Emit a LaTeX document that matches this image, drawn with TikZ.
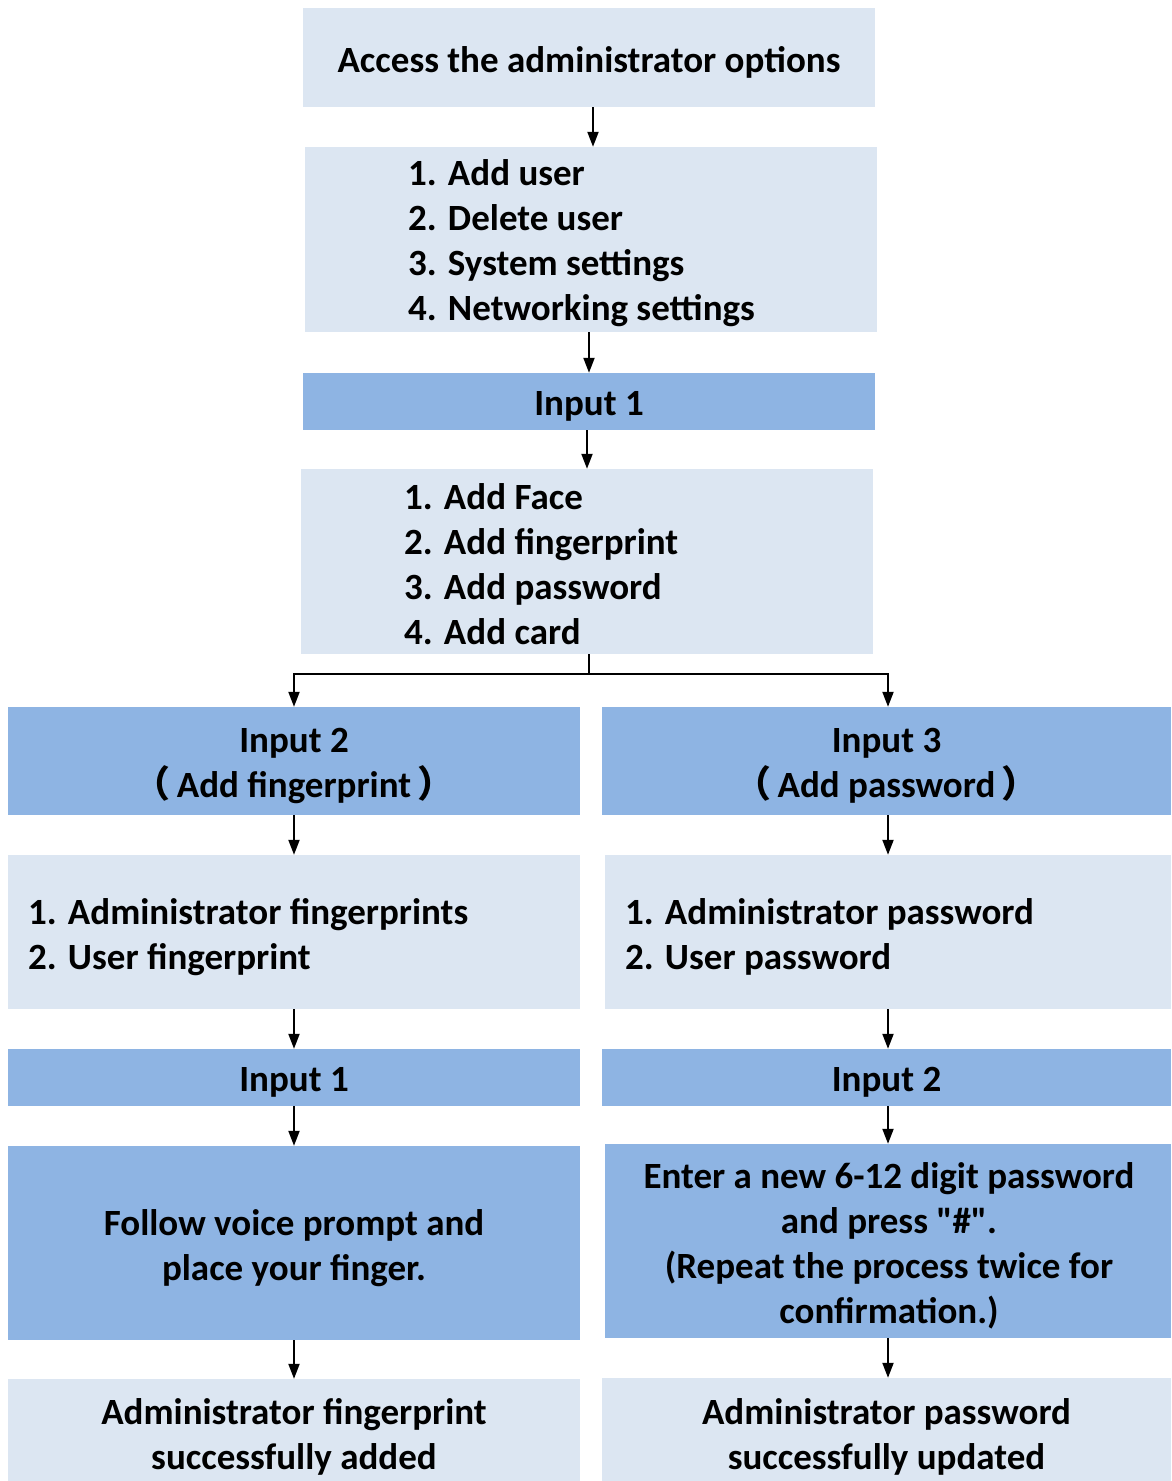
\documentclass[tikz,border=0pt]{standalone}
\usepackage{fontspec}
\setmainfont{Carlito}[Ligatures=TeXOff]
\newfontfamily\cjk{Noto Sans CJK SC}
\usetikzlibrary{arrows.meta}
\definecolor{lightbox}{RGB}{220,230,242}
\definecolor{darkbox}{RGB}{142,180,227}
\tikzset{
  txt/.style={font=\bfseries\fontsize{37}{45}\selectfont},
  lbox/.style={rectangle, inner sep=0pt, fill=lightbox},
  dbox/.style={rectangle, inner sep=0pt, fill=darkbox},
  ctext/.style={inner sep=0pt, align=center, txt},
  ltext/.style={inner sep=0pt, anchor=west, align=left, txt},
  conn/.style={line width=2pt, -{Triangle[length=15pt,width=11pt]}},
  plainline/.style={line width=2pt}
}
\begin{document}
\begin{tikzpicture}[x=1pt,y=-1pt]
\useasboundingbox (0,0) rectangle (1171,1481);
% top column
\node[lbox, minimum width=572pt, minimum height=99pt] (access) at (589,57.5) {};
\node[ctext] (accesst) at (589,62) {Access the administrator options};
\node[lbox, minimum width=572pt, minimum height=185pt] (menu1) at (591,239.5) {};
\node[ltext] (menu1t) at (408,243) {1. Add user\\2. Delete user\\3. System settings\\4. Networking settings};
\node[dbox, minimum width=572pt, minimum height=57pt] (in1) at (589,401.5) {};
\node[ctext] (in1t) at (589,406) {Input 1};
\node[lbox, minimum width=572pt, minimum height=185pt] (menu2) at (587,561.5) {};
\node[ltext] (menu2t) at (404,564) {1. Add Face\\2. Add fingerprint\\3. Add password\\4. Add card};
% left column
\node[dbox, minimum width=572pt, minimum height=108pt] (in2) at (294,761) {};
\node[ctext] (in2t) at (294,766) {Input 2\\{\cjk （}\,Add fingerprint\,{\cjk ）}};
\node[lbox, minimum width=572pt, minimum height=154pt] (fpmenu) at (294,932) {};
\node[ltext] (fpmenut) at (28,937) {1. Administrator fingerprints\\2. User fingerprint};
\node[dbox, minimum width=572pt, minimum height=57pt] (fpin1) at (294,1077.5) {};
\node[ctext] (fpin1t) at (294,1082) {Input 1};
\node[dbox, minimum width=572pt, minimum height=194pt] (follow) at (294,1243) {};
\node[ctext] (followt) at (294,1248) {Follow voice prompt and\\place your finger.};
\node[lbox, minimum width=572pt, minimum height=102pt] (fpdone) at (294,1430) {};
\node[ctext] (fpdonet) at (294,1437) {Administrator fingerprint\\successfully added};
% right column
\node[dbox, minimum width=569pt, minimum height=108pt] (in3) at (886.5,761) {};
\node[ctext] (in3t) at (886.5,766) {Input 3\\{\cjk （}\,Add password\,{\cjk ）}};
\node[lbox, minimum width=566pt, minimum height=154pt] (pwmenu) at (888,932) {};
\node[ltext] (pwmenut) at (625,937) {1. Administrator password\\2. User password};
\node[dbox, minimum width=569pt, minimum height=57pt] (pwin2) at (886.5,1077.5) {};
\node[ctext] (pwin2t) at (886.5,1082) {Input 2};
\node[dbox, minimum width=566pt, minimum height=194pt] (enter) at (888,1241) {};
\node[ctext] (entert) at (889,1246) {Enter a new 6-12 digit password\\and press "\#".\\(Repeat the process twice for\\confirmation.)};
\node[lbox, minimum width=569pt, minimum height=103pt] (pwdone) at (886.5,1429.5) {};
\node[ctext] (pwdonet) at (886.5,1437) {Administrator password\\successfully updated};
% connectors
\draw[conn] (access.south -| 593,0) -- (menu1.north -| 593,0);
\draw[conn] (menu1.south -| 589,0) -- (in1.north -| 589,0);
\draw[conn] (in1.south -| 587,0) -- (menu2.north -| 587,0);
\coordinate (split) at (589,674);
\draw[plainline] (menu2.south -| split) -- (split);
\draw[conn] (split) -| (in2.north);
\draw[conn] (split) -| (in3.north -| 888,0);
\draw[conn] (in2.south) -- (fpmenu.north);
\draw[conn] (fpmenu.south) -- (fpin1.north);
\draw[conn] (fpin1.south) -- (follow.north);
\draw[conn] (follow.south) -- (fpdone.north);
\draw[conn] (in3.south -| 888,0) -- (pwmenu.north -| 888,0);
\draw[conn] (pwmenu.south -| 888,0) -- (pwin2.north -| 888,0);
\draw[conn] (pwin2.south -| 888,0) -- (enter.north -| 888,0);
\draw[conn] (enter.south -| 888,0) -- (pwdone.north -| 888,0);
\end{tikzpicture}
\end{document}
